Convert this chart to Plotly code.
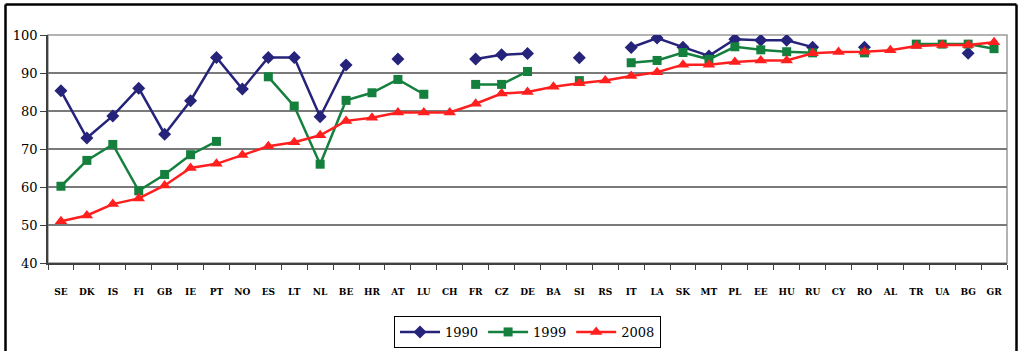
import plotly.graph_objects as go

categories = ["SE","DK","IS","FI","GB","IE","PT","NO","ES","LT","NL","BE","HR","AT","LU","CH",
              "FR","CZ","DE","BA","SI","RS","IT","LA","SK","MT","PL","EE","HU","RU","CY","RO",
              "AL","TR","UA","BG","GR"]

y1990 = [85.3, 72.9, 78.7, 86.0, 73.9, 82.7, 94.1, 85.8, 94.1, 94.1, 78.5, 92.1, None, 93.7, None, None,
         93.7, 94.8, 95.1, None, 94.0, None, 96.7, 99.2, 96.8, 94.5, 98.9, 98.6, 98.6, 96.8, None, 96.8,
         None, None, None, 95.2, None]
y1999 = [60.2, 67.0, 71.2, 59.0, 63.3, 68.5, 72.0, None, 89.0, 81.3, 66.0, 82.8, 84.8, 88.3, 84.4, None,
         87.0, 87.0, 90.4, None, 88.0, None, 92.7, 93.3, 95.4, 93.6, 96.9, 96.1, 95.6, 95.3, None, 95.3,
         None, 97.6, 97.6, 97.6, 96.4]
y2008 = [51.0, 52.5, 55.5, 57.0, 60.4, 65.0, 66.1, 68.4, 70.7, 71.8, 73.6, 77.4, 78.2, 79.6, 79.6, 79.6,
         81.9, 84.6, 85.0, 86.4, 87.3, 88.0, 89.2, 90.2, 92.2, 92.2, 92.9, 93.3, 93.3, 95.2, 95.5, 95.6,
         96.0, 97.1, 97.4, 97.4, 98.1]

series = [
    ("1990", y1990, "#25237A", "diamond", 10),
    ("1999", y1999, "#15803D", "square", 9),
    ("2008", y2008, "#FF1F1F", "triangle-up", 11),
]

SERIF = "DejaVu Serif"

fig = go.Figure()
for name, vals, color, sym, size in series:
    fig.add_trace(go.Scatter(
        x=categories, y=vals, name=name, mode="lines+markers",
        line=dict(color=color, width=2.5),
        marker=dict(symbol=sym, size=size, color=color),
        connectgaps=False,
    ))

W, H = 1019, 351
L, R, T, B = 48, 12, 35, 88
pw, ph = W - L - R, H - T - B


def px_x(px):
    return (px - L) / pw


def px_y(py):
    return (H - B - py) / ph


fig.update_layout(
    width=W, height=H,
    margin=dict(l=L, r=R, t=T, b=B, autoexpand=False),
    paper_bgcolor="white", plot_bgcolor="white",
    font=dict(family=SERIF, color="black"),
    showlegend=True,
    legend=dict(orientation="h", x=0.5, xanchor="center", y=px_y(316), yanchor="top",
                bordercolor="black", borderwidth=1, font=dict(size=13, family=SERIF),
                itemwidth=40, tracegroupgap=0),
    xaxis=dict(type="category", tickson="boundaries", ticks="outside", ticklen=5, tickcolor="#404040",
               showline=True, linecolor="#404040", linewidth=1.5, showgrid=False, automargin=False,
               tickangle=0,
               tickfont=dict(size=9, family=SERIF, color="black", weight="bold"),
               ticklabelstandoff=19, range=[-0.5, len(categories) - 0.5]),
    yaxis=dict(range=[40, 100], dtick=10, ticks="outside", ticklen=6, tickcolor="#404040",
               showline=True, linecolor="#404040", linewidth=1.5, automargin=False,
               showgrid=True, gridcolor="#7a7a7a", gridwidth=1.5, zeroline=False,
               tickfont=dict(size=13, family=SERIF, color="black")),
    shapes=[
        dict(type="rect", xref="paper", yref="paper", x0=0, x1=1, y0=0, y1=1,
             line=dict(color="#9a9a9a", width=1.5), fillcolor="rgba(0,0,0,0)", layer="below"),
        dict(type="line", xref="paper", yref="paper",
             x0=px_x(5.5), x1=px_x(5.5), y0=px_y(360), y1=px_y(4.5),
             line=dict(color="black", width=2.5)),
        dict(type="line", xref="paper", yref="paper",
             x0=px_x(1016.5), x1=px_x(1016.5), y0=px_y(360), y1=px_y(4.5),
             line=dict(color="black", width=2.5)),
        dict(type="line", xref="paper", yref="paper",
             x0=px_x(5.5), x1=px_x(1016.5), y0=px_y(4.5), y1=px_y(4.5),
             line=dict(color="black", width=2.5)),
    ],
)

fig.write_html("out.html", config={"displayModeBar": False},
               post_script="document.body.style.margin='0';")
